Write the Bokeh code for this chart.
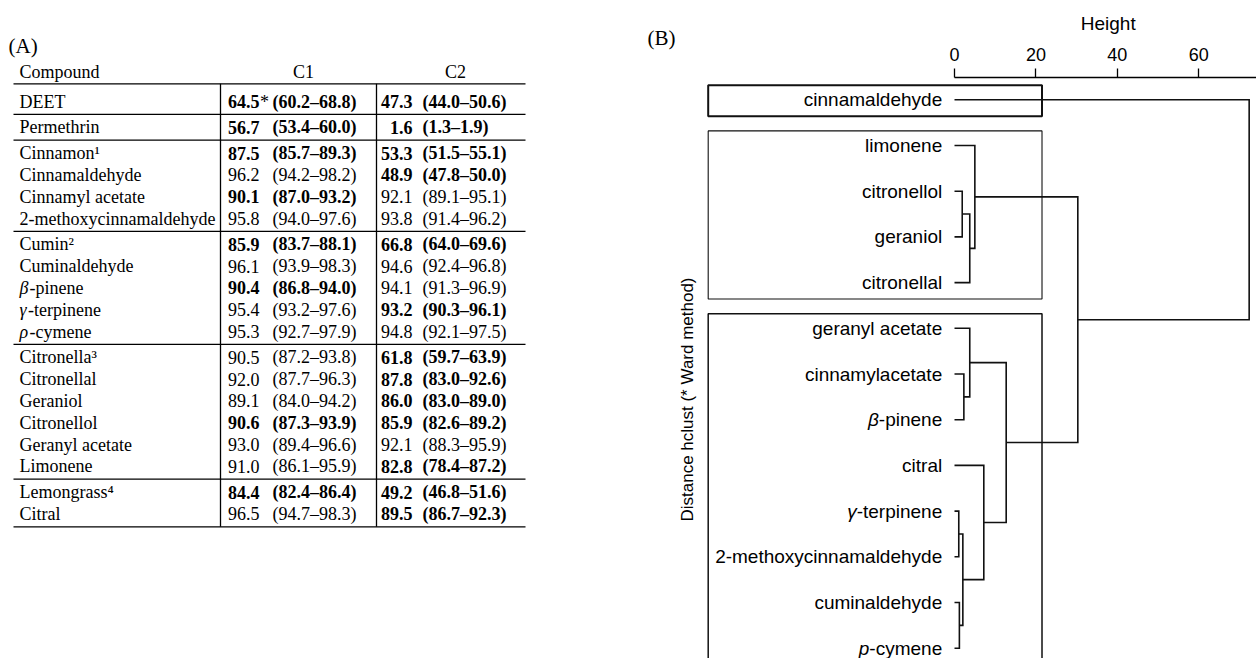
import math
from bokeh.plotting import figure
from bokeh.models import Range1d, FixedTicker, ColumnDataSource, Title
from bokeh.layouts import row
from bokeh.embed import file_html
from bokeh.resources import INLINE
from bokeh.core.properties import value

# ---------------- (A) table data ----------------
compounds = ["DEET", "Permethrin", "Cinnamon\u00b9", "Cinnamaldehyde", "Cinnamyl acetate",
             "2-methoxycinnamaldehyde", "Cumin\u00b2", "Cuminaldehyde", "\u03b2-pinene",
             "\u03b3-terpinene", "\u03c1-cymene", "Citronella\u00b3", "Citronellal", "Geraniol",
             "Citronellol", "Geranyl acetate", "Limonene", "Lemongrass\u2074", "Citral"]
groups = [0, 1, 2, 2, 2, 2, 3, 3, 3, 3, 3, 4, 4, 4, 4, 4, 4, 5, 5]
col_headers = ["Compound", "C1", "C2"]
c1_val = [64.5, 56.7, 87.5, 96.2, 90.1, 95.8, 85.9, 96.1, 90.4, 95.4, 95.3, 90.5, 92.0, 89.1, 90.6, 93.0, 91.0, 84.4, 96.5]
c1_lo = [60.2, 53.4, 85.7, 94.2, 87.0, 94.0, 83.7, 93.9, 86.8, 93.2, 92.7, 87.2, 87.7, 84.0, 87.3, 89.4, 86.1, 82.4, 94.7]
c1_hi = [68.8, 60.0, 89.3, 98.2, 93.2, 97.6, 88.1, 98.3, 94.0, 97.6, 97.9, 93.8, 96.3, 94.2, 93.9, 96.6, 95.9, 86.4, 98.3]
c1_bold = [1, 1, 1, 0, 1, 0, 1, 0, 1, 0, 0, 0, 0, 0, 1, 0, 0, 1, 0]
c1_mark = ["*"] + [""] * 18
c2_val = [47.3, 1.6, 53.3, 48.9, 92.1, 93.8, 66.8, 94.6, 94.1, 93.2, 94.8, 61.8, 87.8, 86.0, 85.9, 92.1, 82.8, 49.2, 89.5]
c2_lo = [44.0, 1.3, 51.5, 47.8, 89.1, 91.4, 64.0, 92.4, 91.3, 90.3, 92.1, 59.7, 83.0, 83.0, 82.6, 88.3, 78.4, 46.8, 86.7]
c2_hi = [50.6, 1.9, 55.1, 50.0, 95.1, 96.2, 69.6, 96.8, 96.9, 96.1, 97.5, 63.9, 92.6, 89.0, 89.2, 95.9, 87.2, 51.6, 92.3]
c2_bold = [1, 1, 1, 1, 0, 0, 1, 0, 0, 1, 0, 1, 1, 1, 1, 0, 1, 1, 1]

# ---------------- (B) dendrogram data ----------------
leaf_labels = ["cinnamaldehyde", "limonene", "citronellol", "geraniol", "citronellal",
               "geranyl acetate", "cinnamylacetate", "\u03b2-pinene", "citral",
               "\u03b3-terpinene", "2-methoxycinnamaldehyde", "cuminaldehyde", "p-cymene"]
leaf_cluster = [1, 2, 2, 2, 2, 3, 3, 3, 3, 3, 3, 3, 3]
# R hclust style merges: negative = leaf (1-based, display order), positive = earlier merge
merge_left = [-10, -12, -3, 1, -7, 3, -6, -2, -9, 7, 8, -1]
merge_right = [-11, -13, -4, 2, -8, -5, 5, 6, 4, 9, 10, 11]
merge_height = [1.05, 1.2, 1.9, 2.05, 2.3, 3.75, 3.75, 5.0, 7.2, 12.7, 30.3, 72.4]
cut_height = 21.5
height_ticks = [0, 20, 40, 60, 80]

# ---------------- layout / style constants ----------------
SERIF = "Liberation Serif"
SANS = "Liberation Sans"
W, H = 1256, 658
SPLIT = 676            # canvas x where panel B starts
FRAME_TOP = 77         # top of the dendrogram frame (axis line)

# table geometry (pixel positions on the canvas)
TAB_X0, TAB_X1 = 13, 525
VLINES = [220, 376]
NAME_X = 19
GREEK_W = {"\u03b2": 10.0, "\u03b3": 8.5, "\u03c1": 10.0}
NUM_R = [259, 412]
INT_L = [272, 422]
HEAD_CX = [303, 455]
HEAD_Y = 71
HEAD_RULE_Y = 83.3
ROW_Y0 = 101
ROW_H = 21.8
GROUP_GAP = 4
TFS = "18px"

# dendrogram geometry
ZERO_PX = 954.0
PX_PER_H = 4.07
LEAF0_PX = 99.3
PX_PER_LEAF = 45.7

def hx(px):
    return (px - ZERO_PX) / PX_PER_H

def ly_(py):
    return (py - LEAF0_PX) / PX_PER_LEAF

# ================= (A) table figure =================
pA = figure(width=SPLIT, height=H, x_range=Range1d(0, SPLIT), y_range=Range1d(H, 0),
            toolbar_location=None, output_backend="svg", frame_align=False,
            x_axis_location=None, y_axis_location=None, min_border=0)
pA.xgrid.visible = False
pA.ygrid.visible = False
pA.outline_line_color = None

row_y = [ROW_Y0 + i * ROW_H + g * GROUP_GAP for i, g in enumerate(groups)]
half = (row_y[1] - row_y[0]) / 2.0
bottom_y = row_y[-1] + half

sx0, sy0, sx1, sy1 = [TAB_X0], [HEAD_RULE_Y], [TAB_X1], [HEAD_RULE_Y]
for i in range(len(groups) - 1):
    if groups[i] != groups[i + 1]:
        yy = (row_y[i] + row_y[i + 1]) / 2.0
        sx0.append(TAB_X0); sy0.append(yy); sx1.append(TAB_X1); sy1.append(yy)
sx0.append(TAB_X0); sy0.append(bottom_y); sx1.append(TAB_X1); sy1.append(bottom_y)
for vx in VLINES:
    sx0.append(vx); sy0.append(HEAD_RULE_Y); sx1.append(vx); sy1.append(bottom_y)
pA.segment(sx0, sy0, sx1, sy1, line_color="black", line_width=1.3)

pA.text(x=[8, 647], y=[45, 37], text=["(A)", "(B)"], text_font=value(SERIF),
        text_font_size="21px", text_baseline="middle", text_align="left", text_color="black")
pA.text(x=[NAME_X], y=[HEAD_Y], text=[col_headers[0]], text_font=value(SERIF), text_font_size=TFS,
        text_baseline="middle", text_align="left", text_color="black")
pA.text(x=HEAD_CX, y=[HEAD_Y] * 2, text=col_headers[1:], text_font=value(SERIF), text_font_size=TFS,
        text_baseline="middle", text_align="center", text_color="black")

nx, ny, nt, ns = [], [], [], []
for name, yy in zip(compounds, row_y):
    if len(name) > 1 and name[1] == "-" and not name[0].isdigit():
        nx += [NAME_X, NAME_X + GREEK_W.get(name[0], 9.5)]; ny += [yy, yy]
        nt += [name[0], name[1:]]; ns += ["italic", "normal"]
    else:
        nx.append(NAME_X); ny.append(yy); nt.append(name); ns.append("normal")
pA.text(x="x", y="y", text="t", text_font_style="s",
        source=ColumnDataSource(dict(x=nx, y=ny, t=nt, s=ns)),
        text_font=value(SERIF), text_font_size=TFS, text_baseline="middle", text_align="left",
        text_color="black")

for k, (vals, los, his, bolds) in enumerate([(c1_val, c1_lo, c1_hi, c1_bold),
                                              (c2_val, c2_lo, c2_hi, c2_bold)]):
    st = ["bold" if b else "normal" for b in bolds]
    pA.text(x=[NUM_R[k]] * len(vals), y=row_y, text=["%.1f" % v for v in vals],
            text_font_style=st, text_font=value(SERIF), text_font_size=TFS,
            text_baseline="middle", text_align="right", text_color="black")
    pA.text(x=[INT_L[k]] * len(vals), y=row_y,
            text=["(%.1f\u2013%.1f)" % (a, b) for a, b in zip(los, his)],
            text_font_style=st, text_font=value(SERIF), text_font_size=TFS,
            text_baseline="middle", text_align="left", text_color="black")
mk_y = [yy for yy, m in zip(row_y, c1_mark) if m]
mk_t = [m for m in c1_mark if m]
pA.text(x=[NUM_R[0] + 0.5] * len(mk_t), y=mk_y, text=mk_t, text_font=value(SERIF), text_font_size=TFS,
        text_baseline="middle", text_align="left", text_color="black")

# ================= (B) dendrogram figure =================
pB = figure(width=W - SPLIT, height=H, x_range=Range1d(hx(SPLIT), hx(W)),
            y_range=Range1d(ly_(H), ly_(FRAME_TOP)), title=None,
            toolbar_location=None, output_backend="svg", frame_align=False,
            x_axis_location="above", y_axis_location=None, min_border=0)
pB.min_border_top = FRAME_TOP
pB.xgrid.visible = False
pB.ygrid.visible = False
pB.outline_line_color = None

ax = pB.xaxis[0]
ax.ticker = FixedTicker(ticks=height_ticks)
ax.bounds = (0, 80)
ax.major_label_text_font = SANS
ax.major_label_text_font_size = "18px"
ax.major_label_text_color = "black"
ax.major_label_standoff = 8
ax.major_tick_out = 9
ax.major_tick_in = 0
ax.minor_tick_line_color = None
ax.axis_line_width = 1.3
ax.major_tick_line_width = 1.3
ax.axis_line_color = "black"
ax.major_tick_line_color = "black"

HEIGHT_CX = 1107.7
HEIGHT_FS = 19
height_w = 2.89 * HEIGHT_FS   # Liberation Sans advance width of "Height"
pB.add_layout(Title(text="Height", align="left", offset=HEIGHT_CX - SPLIT - height_w / 2.0,
                    text_font=SANS, text_font_size="%dpx" % HEIGHT_FS, text_font_style="normal",
                    text_color="black", standoff=21), "above")

node_h, node_y = [], []
def child_pos(c):
    if c < 0:
        return 0.0, float(-c - 1)
    return node_h[c - 1], node_y[c - 1]
dxs, dys = [], []
for a, b, Hm in zip(merge_left, merge_right, merge_height):
    ha, ya = child_pos(a)
    hb, yb = child_pos(b)
    dxs.append([ha, Hm, Hm, hb])
    dys.append([ya, ya, yb, yb])
    node_h.append(Hm)
    node_y.append((ya + yb) / 2.0)
pB.multi_line(dxs, dys, line_color="#111111", line_width=1.6, line_join="miter")

BOX_LEFT_H = hx(707.7)
BOX_LW = [2.0, 1.1, 1.5]
bl, br, bt, bb, bw = [], [], [], [], []
for cl in sorted(set(leaf_cluster)):
    idx = [i for i, c in enumerate(leaf_cluster) if c == cl]
    bl.append(BOX_LEFT_H); br.append(cut_height)
    bt.append(min(idx) - 0.32); bb.append(max(idx) + 0.36)
    bw.append(BOX_LW[(cl - 1) % len(BOX_LW)])
pB.quad(left=bl, right=br, top=bt, bottom=bb, fill_color=None, line_color="#111111", line_width=bw)

SANS_W = {'-': 333, 'a': 556, 'b': 556, 'c': 500, 'd': 556, 'e': 556, 'f': 278, 'g': 556, 'h': 556,
          'i': 222, 'j': 222, 'k': 500, 'l': 222, 'm': 833, 'n': 556, 'o': 556, 'p': 556, 'q': 556,
          'r': 333, 's': 500, 't': 278, 'u': 556, 'v': 500, 'w': 722, 'x': 500, 'y': 500, 'z': 500, ' ': 278}
LEAF_FS = 19
LABEL_H = hx(941.7)
lx, lyv, lt, ls = [], [], [], []
for i, lab in enumerate(leaf_labels):
    if len(lab) > 1 and lab[1] == "-" and not lab[0].isdigit():
        rest = lab[1:]
        w = sum(SANS_W.get(ch, 556) for ch in rest) * LEAF_FS / 1000.0 / PX_PER_H
        lx += [LABEL_H, LABEL_H - w]; lyv += [i, i]; lt += [rest, lab[0]]; ls += ["normal", "italic"]
    else:
        lx.append(LABEL_H); lyv.append(i); lt.append(lab); ls.append("normal")
pB.text(x="x", y="y", text="t", text_font_style="s",
        source=ColumnDataSource(dict(x=lx, y=lyv, t=lt, s=ls)),
        text_font=value(SANS), text_font_size="%dpx" % LEAF_FS, text_baseline="middle",
        text_align="right", text_color="black")

pB.text(x=[hx(686.7)], y=[ly_(399)], text=["Distance hclust (* Ward method)"], angle=math.pi / 2,
        text_font=value(SANS), text_font_size="17px", text_baseline="middle", text_align="center",
        text_color="black")

layout = row(pA, pB, spacing=0)
open("out.html", "w").write(file_html(layout, INLINE))
